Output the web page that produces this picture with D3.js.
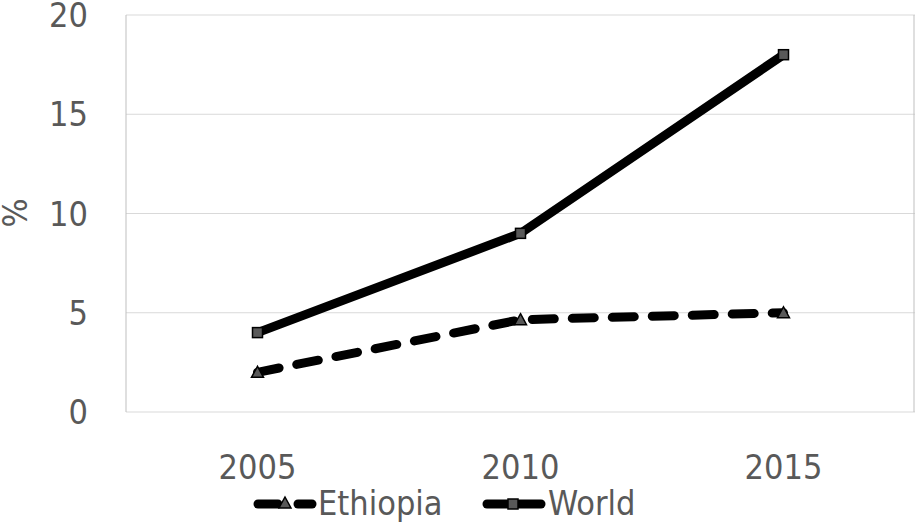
<!DOCTYPE html>
<html><head><meta charset="utf-8">
<script src="https://cdn.jsdelivr.net/npm/d3@7"></script>
<style>body{margin:0;background:#fff}</style>
</head><body>
<svg id="chart" width="915" height="524"></svg>
<script>
var years = ['2005','2010','2015'];
var ethiopia = [2.0, 4.65, 5.0];
var world = [4, 9, 18];
var yTicks = [0,5,10,15,20];

var svg = d3.select('#chart');
var plotLeft = 126, plotRight = 915, plotTop = 15, plotBottom = 412;
var font = "'DejaVu Sans Condensed','Liberation Sans Narrow',sans-serif";
var fs = '34px';

var x = d3.scaleBand().domain(years).range([plotLeft, plotRight]);
var y = d3.scaleLinear().domain([0,20]).range([plotBottom, plotTop]);

// grid
svg.selectAll('.grid').data(yTicks).enter().append('line')
  .attr('x1', plotLeft).attr('x2', plotRight)
  .attr('y1', d => y(d)).attr('y2', d => y(d))
  .attr('stroke', '#d9d9d9').attr('stroke-width', 1);
svg.append('line').attr('x1', plotLeft).attr('x2', plotLeft).attr('y1', plotTop).attr('y2', plotBottom).attr('stroke', '#bfbfbf');
svg.append('line').attr('x1', plotRight-1).attr('x2', plotRight-1).attr('y1', plotTop).attr('y2', plotBottom).attr('stroke', '#bfbfbf');

svg.selectAll('.ytl').data(yTicks).enter().append('text')
  .attr('x', 88).attr('y', d => y(d) + 12)
  .attr('text-anchor', 'end').attr('fill', '#595959')
  .style('font-family', font).style('font-size', fs).text(d => d);

svg.selectAll('.xtl').data(years).enter().append('text')
  .attr('x', d => x(d) + x.bandwidth()/2).attr('y', 479)
  .attr('text-anchor', 'middle').attr('fill', '#595959')
  .style('font-family', font).style('font-size', fs).text(d => d);

svg.append('text').attr('transform', 'translate(27,213) rotate(-90)')
  .attr('text-anchor', 'middle').attr('fill', '#595959')
  .style('font-family', font).style('font-size', fs).text('%');

var line = d3.line().x((d,i) => x(years[i]) + x.bandwidth()/2).y(d => y(d));

svg.append('path').datum(ethiopia).attr('d', line).attr('fill', 'none')
  .attr('stroke', '#000').attr('stroke-width', 9).attr('stroke-linecap', 'round')
  .attr('stroke-dasharray', '22,18');
svg.append('path').datum(world).attr('d', line).attr('fill', 'none')
  .attr('stroke', '#000').attr('stroke-width', 9);

function tri(cx, cy) {
  return 'M' + cx + ',' + (cy-6) + 'L' + (cx+6) + ',' + (cy+5) + 'L' + (cx-6) + ',' + (cy+5) + 'Z';
}
svg.selectAll('.em').data(ethiopia).enter().append('path')
  .attr('d', (d,i) => tri(x(years[i]) + x.bandwidth()/2, y(d)))
  .attr('fill', '#595959').attr('stroke', '#000').attr('stroke-width', 1.5);
svg.selectAll('.wm').data(world).enter().append('rect')
  .attr('x', (d,i) => x(years[i]) + x.bandwidth()/2 - 5).attr('y', d => y(d) - 5)
  .attr('width', 10).attr('height', 10)
  .attr('fill', '#595959').attr('stroke', '#000').attr('stroke-width', 1.5);

// legend
var lg = svg.append('g');
lg.append('line').attr('x1', 258).attr('x2', 278).attr('y1', 504).attr('y2', 504)
  .attr('stroke', '#000').attr('stroke-width', 9).attr('stroke-linecap', 'round');
lg.append('line').attr('x1', 298).attr('x2', 312).attr('y1', 504).attr('y2', 504)
  .attr('stroke', '#000').attr('stroke-width', 9).attr('stroke-linecap', 'round');
lg.append('path').attr('d', tri(285, 503)).attr('fill', '#595959').attr('stroke', '#000').attr('stroke-width', 1.5);
lg.append('text').attr('x', 318).attr('y', 515).attr('fill', '#595959')
  .style('font-family', font).style('font-size', fs).text('Ethiopia');
lg.append('line').attr('x1', 487).attr('x2', 541).attr('y1', 504).attr('y2', 504)
  .attr('stroke', '#000').attr('stroke-width', 9).attr('stroke-linecap', 'round');
lg.append('rect').attr('x', 508).attr('y', 499).attr('width', 10).attr('height', 10)
  .attr('fill', '#595959').attr('stroke', '#000').attr('stroke-width', 1.5);
lg.append('text').attr('x', 548).attr('y', 515).attr('fill', '#595959')
  .style('font-family', font).style('font-size', fs).text('World');
</script>
</body></html>
